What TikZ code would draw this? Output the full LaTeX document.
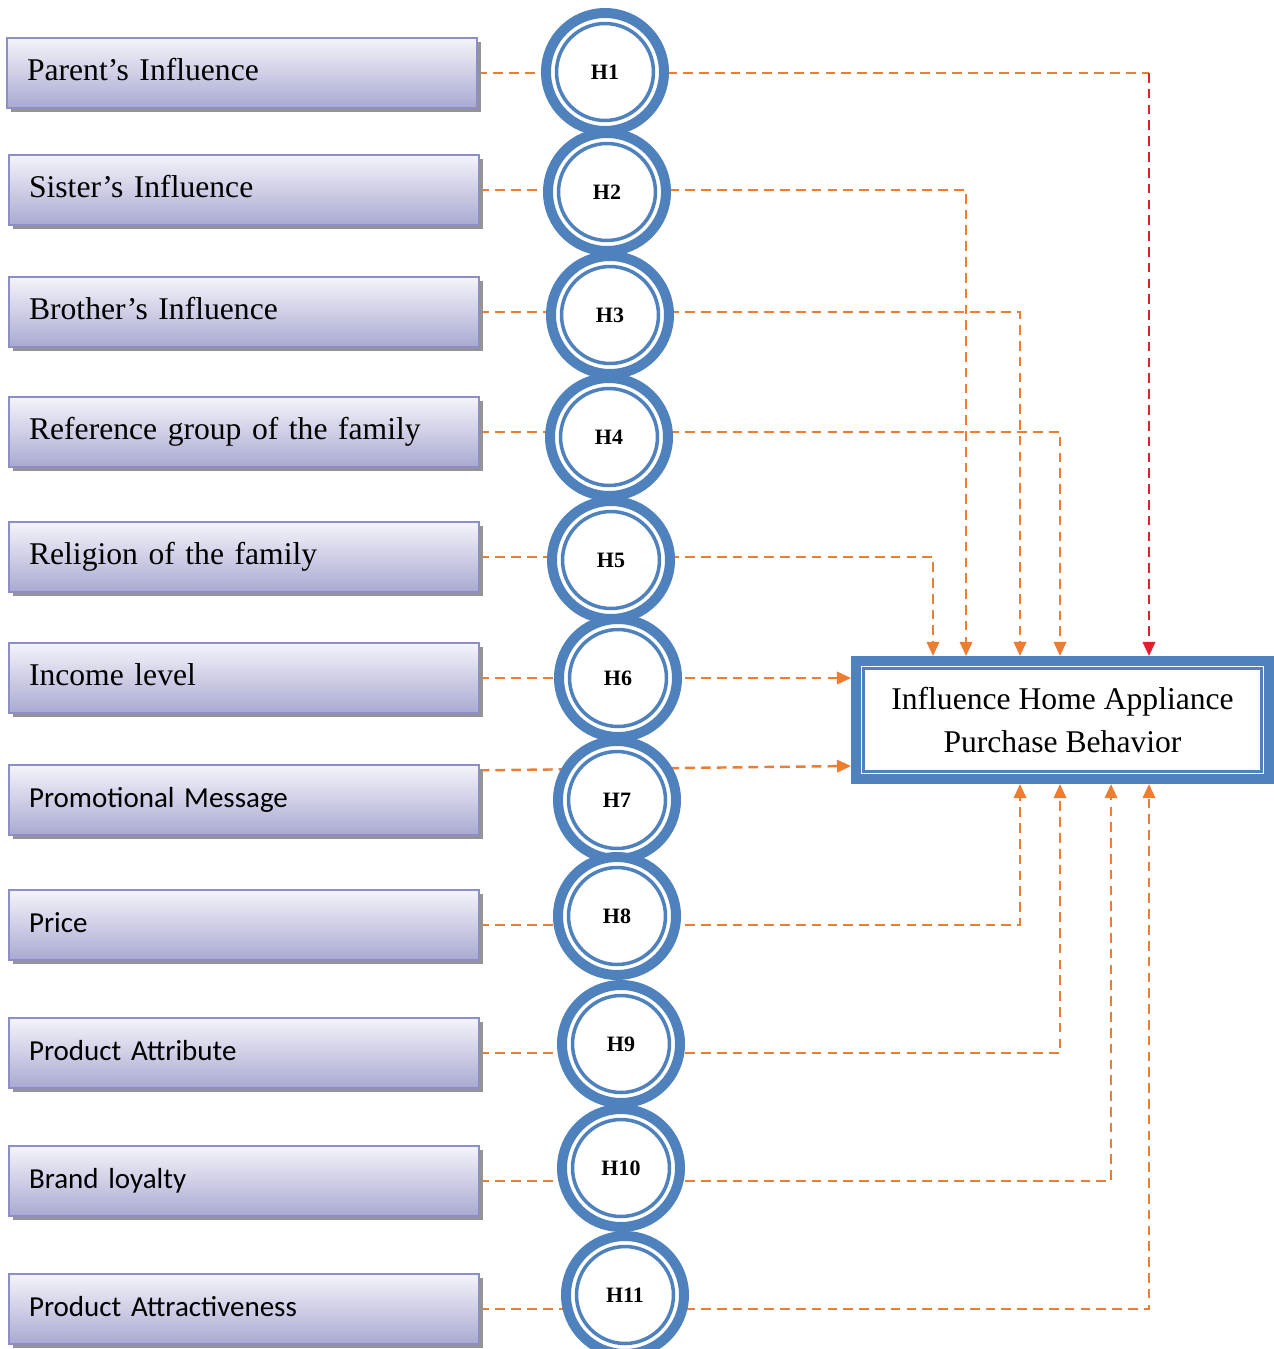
\documentclass[tikz,border=0pt]{standalone}
\usepackage{fontspec}
\setmainfont{Liberation Serif}
\newfontfamily\calibrifont{Carlito}
\usetikzlibrary{arrows.meta,backgrounds,shadows}
\definecolor{hypblue}{HTML}{4F81BD}
\definecolor{linkorange}{HTML}{ED7D31}
\definecolor{linkred}{HTML}{E0202E}
\definecolor{boxedge}{HTML}{8E8EC6}
\definecolor{boxtop}{HTML}{F4F4FA}
\definecolor{boxbottom}{HTML}{A9A9D2}

\begin{document}
\begin{tikzpicture}[
    x=0.02cm, y=-0.02cm,
    factor/.style={draw=boxedge, line width=.8pt, top color=boxtop,
      bottom color=boxbottom, minimum width=9.4cm, minimum height=1.4cm,
      text width=8.6cm, inner xsep=.4cm, align=left,
      text height=.45cm, text depth=.16cm,
      font=\fontsize{18}{22}\selectfont,
      drop shadow={shadow xshift=2.2pt, shadow yshift=-2.4pt,
        fill=black!42, opacity=1}},
    factorsf/.style={factor, font=\calibrifont\fontsize{16.5}{20}\selectfont},
    hyp/.style={circle, draw=hypblue, line width=5.7pt, fill=white,
      minimum size=2.36cm, inner sep=0pt,
      font=\fontsize{12.5}{14}\selectfont\bfseries,
      path picture={\draw[hypblue, line width=2pt]
        (path picture bounding box.center) circle[radius=.97cm];}},
    outcome/.style={draw=hypblue, line width=5.7pt, fill=white,
      minimum width=8.26cm, minimum height=2.36cm, align=center,
      font=\fontsize{18}{24}\selectfont,
      path picture={\draw[hypblue, line width=1.2pt]
        ([shift={(.15cm,-.15cm)}]path picture bounding box.north west)
        rectangle ([shift={(-.15cm,.15cm)}]path picture bounding box.south east);}},
    link/.style={draw=linkorange, line width=1.4pt,
      dash pattern=on 5.5pt off 3.5pt},
    linkr/.style={link, draw=linkred},
    tip/.style={-{Triangle[length=8pt, width=7pt]}}
  ]
    \useasboundingbox (0,0) rectangle (1274,1349);

    % factors
    \node[factor] (parent) at (242,73) {Parent’s Influence};
    \node[factor] (sister) at (244,190) {Sister’s Influence};
    \node[factor] (brother) at (244,312) {Brother’s Influence};
    \node[factor] (refgroup) at (244,432) {Reference group of the family};
    \node[factor] (religion) at (244,557) {Religion of the family};
    \node[factor] (income) at (244,678) {Income level};
    \node[factorsf] (promo) at (244,800) {Promotional Message};
    \node[factorsf] (price) at (244,925) {Price};
    \node[factorsf] (attribute) at (244,1053) {Product Attribute};
    \node[factorsf] (loyalty) at (244,1181) {Brand loyalty};
    \node[factorsf] (attract) at (244,1309) {Product Attractiveness};

    % hypotheses
    \node[hyp] (h1) at (605,72) {H1};
    \node[hyp] (h2) at (607,192) {H2};
    \node[hyp] (h3) at (610,315) {H3};
    \node[hyp] (h4) at (609,437) {H4};
    \node[hyp] (h5) at (611,560) {H5};
    \node[hyp] (h6) at (618,678) {H6};
    \node[hyp] (h7) at (617,800) {H7};
    \node[hyp] (h8) at (617,916) {H8};
    \node[hyp] (h9) at (621,1044) {H9};
    \node[hyp] (h10) at (621,1168) {H10};
    \node[hyp] (h11) at (625,1295) {H11};

    \node[outcome] (behavior) at (1062.5,720)
      {Influence Home Appliance\\Purchase Behavior};

    \coordinate (in1) at (1149,0 |- behavior.north);
    \coordinate (in2) at (966,0 |- behavior.north);
    \coordinate (in3) at (1020,0 |- behavior.north);
    \coordinate (in4) at (1060,0 |- behavior.north);
    \coordinate (in5) at (933,0 |- behavior.north);
    \coordinate (in8) at (1020,0 |- behavior.south);
    \coordinate (in9) at (1060,0 |- behavior.south);
    \coordinate (in10) at (1111,0 |- behavior.south);
    \coordinate (in11) at (1149,0 |- behavior.south);

    \begin{scope}[on background layer]
      \draw[link] (parent.east) -- (parent.east -| in1);
      \draw[linkr, tip] (parent.east -| in1) -- (in1);
      \draw[link, tip] (sister.east) -| (in2);
      \draw[link, tip] (brother.east) -| (in3);
      \draw[link, tip] (refgroup.east) -| (in4);
      \draw[link, tip] (religion.east) -| (in5);
      \draw[link, tip] (income.east) -- (income.east -| behavior.west);
      \draw[link, tip] ([yshift=-.12cm]promo.north east)
        -- ([yshift=.36cm]behavior.south west);
      \draw[link, tip] (price.east) -| (in8);
      \draw[link, tip] (attribute.east) -| (in9);
      \draw[link, tip] (loyalty.east) -| (in10);
      \draw[link, tip] (attract.east) -| (in11);
    \end{scope}
  \end{tikzpicture}
\end{document}
